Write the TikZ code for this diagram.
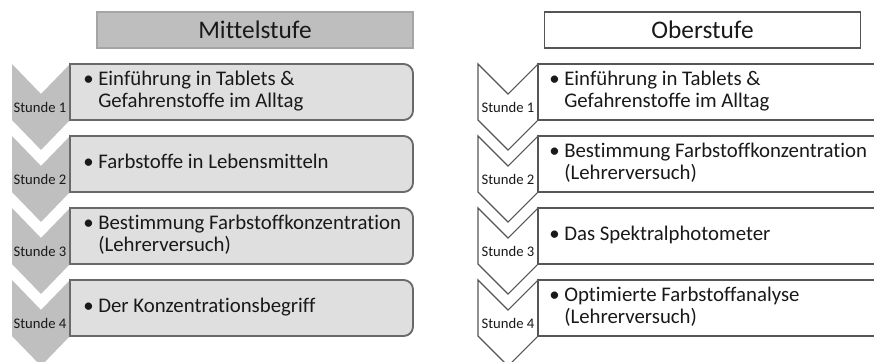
\documentclass[tikz,border=0pt]{standalone}
\usepackage{fontspec}
\setmainfont[Ligatures={NoCommon}]{Carlito}

\definecolor{headfill}{RGB}{190,190,190}
\definecolor{headline}{RGB}{165,165,165}
\definecolor{chevfill}{RGB}{191,191,191}
\definecolor{boxfill}{RGB}{223,223,223}
\definecolor{boxline}{RGB}{105,105,105}
\definecolor{darkline}{RGB}{85,85,85}
\definecolor{inkgray}{RGB}{25,25,25}

% bullet with hanging second line
\newcommand{\punkt}[1]{\begin{tabular}{@{}l@{\hspace{3.5pt}}l@{}}\textbullet & #1\end{tabular}}

\tikzset{
  header/.style = {minimum width=237pt, minimum height=27pt, inner sep=0pt,
                   line width=1.1pt, font=\fontsize{19}{22}\selectfont, text=inkgray},
  item/.style   = {anchor=west, inner sep=0pt, font=\fontsize{15.6}{17}\selectfont, text=inkgray},
  stunde/.style = {inner sep=0pt, font=\fontsize{11}{12}\selectfont, text=inkgray},
  lchev/.style  = {fill=chevfill},
  rchev/.style  = {fill=white, draw=darkline, line width=0.8pt},
  lframe/.style = {fill=boxfill, draw=boxline, line width=1.4pt},
  rframe/.style = {fill=white, draw=darkline, line width=0.9pt}
}

\begin{document}
\begin{tikzpicture}[x=0.75pt,y=-0.75pt]
  \useasboundingbox (0,0) rectangle (874,361);
  \clip (0,0) rectangle (874,361);

  % column heads
  \node[header, fill=headfill, draw=headline] (mittel) at (255,30) {Mittelstufe};
  \node[header, draw=darkline] (ober) at (702.5,30) {Oberstufe};

  % chevrons and frames, one row per lesson
  \foreach \n/\t in {1/64,2/136,3/208,4/280}{
    \fill[lchev] (12,\t) -- (41,\t+30) -- (70,\t) -- (70,\t+56) -- (41,\t+86) -- (12,\t+56) -- cycle;
    \filldraw[lframe] (70,\t+56) -- (70,\t) [rounded corners=7pt] -- (413,\t) -- (413,\t+56) [sharp corners] -- cycle;
    \node[stunde] (ms\n) at (40,\t+43) {Stunde \n};

    \filldraw[rchev] (478,\t) -- (508,\t+30) -- (538,\t) -- (538,\t+56) -- (508,\t+86) -- (478,\t+56) -- cycle;
    \filldraw[rframe] (538,\t) rectangle (880,\t+56);
    \node[stunde] (os\n) at (508,\t+43) {Stunde \n};
  }

  % Mittelstufe
  \node[item] (m1) at (83,92) {\punkt{Einführung in Tablets \& \\ & Gefahrenstoffe im Alltag}};
  \node[item] (m2) at (83,164) {\punkt{Farbstoffe in Lebensmitteln}};
  \node[item] (m3) at (83,236) {\punkt{Bestimmung Farbstoffkonzentration \\ & (Lehrerversuch)}};
  \node[item] (m4) at (83,308) {\punkt{Der Konzentrationsbegriff}};

  % Oberstufe
  \node[item] (o1) at (549,92) {\punkt{Einführung in Tablets \& \\ & Gefahrenstoffe im Alltag}};
  \node[item] (o2) at (549,164) {\punkt{Bestimmung Farbstoffkonzentration \\ & (Lehrerversuch)}};
  \node[item] (o3) at (549,236) {\punkt{Das Spektralphotometer}};
  \node[item] (o4) at (549,308) {\punkt{Optimierte Farbstoffanalyse \\ & (Lehrerversuch)}};
\end{tikzpicture}
\end{document}
